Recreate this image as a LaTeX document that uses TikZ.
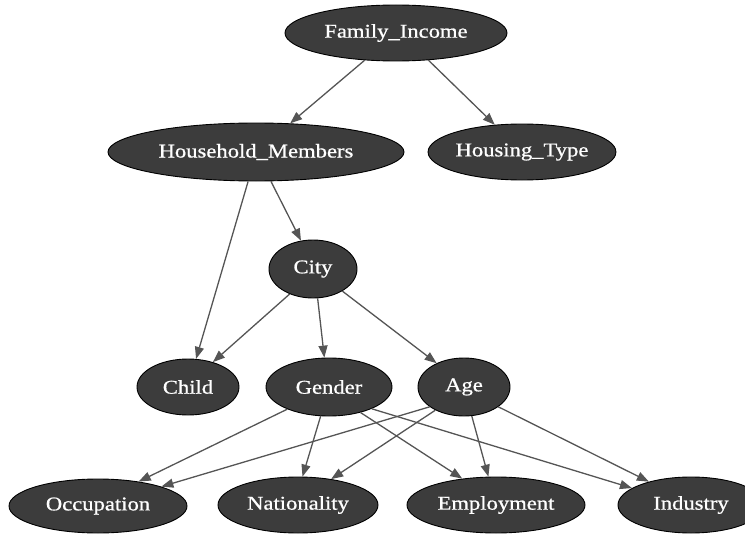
\documentclass[tikz,border=0pt]{standalone}
\usepackage{fontspec}
\setmainfont{Liberation Serif}[FakeStretch=1.16,FakeBold=0.8]
\usetikzlibrary{shapes.geometric,arrows.meta}
\definecolor{nodefill}{HTML}{3C3C3C}
\definecolor{edgegray}{HTML}{555555}
\tikzset{
  var/.style={ellipse, draw=black, line width=0.9pt, fill=nodefill, text=white,
    inner sep=0pt, font=\fontsize{19.5}{22}\selectfont},
  link/.style={draw=edgegray, line width=1.3pt,
    -{Triangle[length=12pt,width=9pt,fill=edgegray]}}
}
\begin{document}
\begin{tikzpicture}[x=1pt,y=-1pt]
\useasboundingbox (0,0) rectangle (745,535);
\clip (0,0) rectangle (745,535);

% nodes
\node[var, minimum width=222pt, minimum height=56pt] (fi)  at (396,33)  {Family\_Income};
\node[var, minimum width=296pt, minimum height=58pt] (hm)  at (256,152) {Household\_Members};
\node[var, minimum width=184pt, minimum height=56pt] (ht)  at (522,152) {Housing\_Type};
\node[var, minimum width=88pt,  minimum height=58pt] (city) at (313,269) {City};
\node[var, minimum width=102pt, minimum height=56pt] (child) at (188,387) {Child};
\node[var, minimum width=126pt, minimum height=58pt] (gen) at (329,387) {Gender};
\node[var, minimum width=92pt,  minimum height=58pt] (age) at (464,387) {Age};
\node[var, minimum width=178pt, minimum height=54pt] (occ) at (98,506)  {Occupation};
\node[var, minimum width=160pt, minimum height=56pt] (nat) at (298,505) {Nationality};
\node[var, minimum width=178pt, minimum height=56pt] (emp) at (496,505) {Employment};
\node[var, minimum width=146pt, minimum height=56pt] (ind) at (691,505) {Industry};

% edges
\draw[link] (fi.-139) -- (hm.40);
\draw[link] (fi.-40) -- (ht.135);
\draw[link] (hm.-105) -- (child.74);
\draw[link] (hm.-63) -- (city.113);
\draw[link] (city.-133) -- (child.45);
\draw[link] (city.-81) -- (gen.99);
\draw[link] (city.-37) -- (age.139);
\draw[link] (gen.-152) -- (occ.31);
\draw[link] (gen.-106) -- (nat.81);
\draw[link] (gen.-39) -- (emp.142);
\draw[link] (gen.-27) -- (ind.164);
\draw[link] (age.-150) -- (occ.17);
\draw[link] (age.-141) -- (nat.38);
\draw[link] (age.-75) -- (emp.105);
\draw[link] (age.-30) -- (ind.151);
\end{tikzpicture}
\end{document}
